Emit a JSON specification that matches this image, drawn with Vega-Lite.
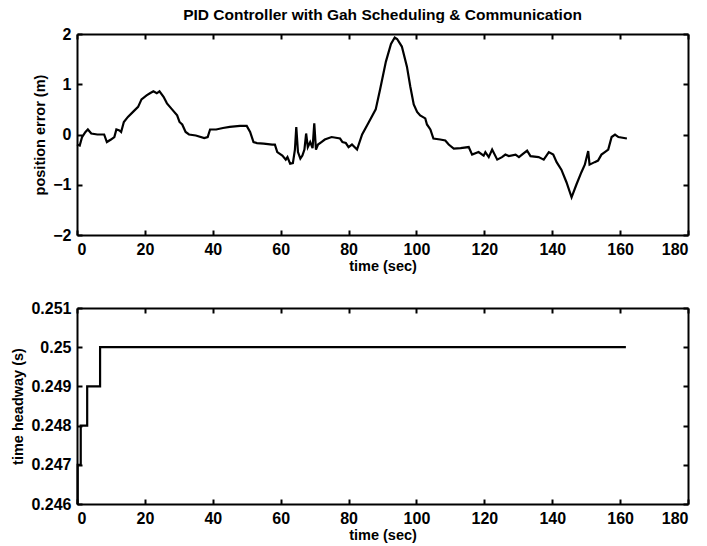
{
  "$schema": "https://vega.github.io/schema/vega-lite/v6.json",
  "padding": {"left": 10, "top": 7, "right": 5, "bottom": 2},
  "background": "white",
  "config": {
    "font": "Liberation Sans",
    "view": {"stroke": null},
    "axis": {
      "grid": false,
      "domainColor": "black",
      "domainWidth": 2,
      "tickColor": "black",
      "tickWidth": 2,
      "tickSize": -5,
      "labelFont": "Liberation Sans",
      "labelFontWeight": "bold",
      "labelFontSize": 16,
      "labelColor": "black",
      "titleFont": "Liberation Sans",
      "titleFontWeight": "bold",
      "titleFontSize": 14.5,
      "titleColor": "black"
    },
    "title": {"font": "Liberation Sans", "fontWeight": "bold", "fontSize": 15.5, "color": "black"}
  },
  "spacing": 27,
  "vconcat": [
    {
      "width": 611,
      "height": 201,
      "title": {"text": "PID Controller with Gah Scheduling & Communication", "anchor": "middle", "offset": 3},
      "data": {"values": [
        {"t":0,"e":-0.2},{"t":0.8,"e":-0.22},{"t":1.5,"e":-0.05},{"t":2.5,"e":0.05},{"t":3.2,"e":0.1},{"t":4.2,"e":0.02},{"t":6,"e":0.0},{"t":8,"e":0.0},{"t":8.8,"e":-0.15},{"t":10,"e":-0.1},{"t":11,"e":-0.05},{"t":11.6,"e":0.1},{"t":12.5,"e":0.08},{"t":13,"e":0.05},{"t":13.8,"e":0.25},{"t":15,"e":0.35},{"t":16.5,"e":0.45},{"t":18,"e":0.55},{"t":19,"e":0.7},{"t":20.5,"e":0.78},{"t":21.5,"e":0.82},{"t":22.5,"e":0.86},{"t":23.5,"e":0.82},{"t":24.3,"e":0.86},{"t":25.5,"e":0.75},{"t":26.5,"e":0.62},{"t":28,"e":0.5},{"t":29.5,"e":0.38},{"t":30.2,"e":0.25},{"t":31,"e":0.2},{"t":32,"e":0.05},{"t":33,"e":0.0},{"t":35,"e":-0.02},{"t":37.5,"e":-0.07},{"t":38.5,"e":-0.05},{"t":39.2,"e":0.1},{"t":41,"e":0.1},{"t":43,"e":0.13},{"t":45,"e":0.15},{"t":48,"e":0.17},{"t":50,"e":0.17},{"t":51,"e":0.05},{"t":52,"e":-0.15},{"t":53,"e":-0.17},{"t":55,"e":-0.18},{"t":57.5,"e":-0.2},{"t":58.3,"e":-0.2},{"t":59,"e":-0.35},{"t":60.5,"e":-0.42},{"t":61.5,"e":-0.5},{"t":62,"e":-0.45},{"t":62.8,"e":-0.58},{"t":63.6,"e":-0.57},{"t":64.2,"e":-0.3},{"t":64.6,"e":0.15},{"t":65.1,"e":-0.35},{"t":65.8,"e":-0.48},{"t":66.4,"e":-0.42},{"t":67,"e":-0.3},{"t":67.5,"e":0.02},{"t":68,"e":-0.25},{"t":68.7,"e":-0.15},{"t":69.4,"e":-0.27},{"t":69.9,"e":0.22},{"t":70.4,"e":-0.3},{"t":71,"e":-0.2},{"t":72,"e":-0.15},{"t":73,"e":-0.1},{"t":75,"e":-0.05},{"t":77.5,"e":-0.08},{"t":78.2,"e":-0.15},{"t":79.2,"e":-0.17},{"t":80,"e":-0.25},{"t":81,"e":-0.2},{"t":82.5,"e":-0.3},{"t":84,"e":0.0},{"t":86,"e":0.25},{"t":88,"e":0.5},{"t":89.3,"e":0.9},{"t":91,"e":1.45},{"t":92.5,"e":1.8},{"t":93.6,"e":1.93},{"t":94.3,"e":1.9},{"t":95.7,"e":1.75},{"t":97.2,"e":1.35},{"t":98.2,"e":0.95},{"t":99.2,"e":0.6},{"t":100.2,"e":0.45},{"t":101.1,"e":0.38},{"t":102.6,"e":0.32},{"t":103.1,"e":0.2},{"t":104.1,"e":0.1},{"t":105,"e":-0.08},{"t":107,"e":-0.1},{"t":108.5,"e":-0.12},{"t":109.5,"e":-0.2},{"t":111,"e":-0.28},{"t":113,"e":-0.27},{"t":115.4,"e":-0.25},{"t":116.4,"e":-0.4},{"t":118.3,"e":-0.35},{"t":119.8,"e":-0.42},{"t":120.3,"e":-0.35},{"t":121.3,"e":-0.45},{"t":122.3,"e":-0.3},{"t":123.8,"e":-0.5},{"t":125.2,"e":-0.45},{"t":126.2,"e":-0.4},{"t":127.2,"e":-0.43},{"t":129.2,"e":-0.4},{"t":130.2,"e":-0.45},{"t":131.1,"e":-0.4},{"t":132.6,"e":-0.32},{"t":133.6,"e":-0.43},{"t":136,"e":-0.45},{"t":137.5,"e":-0.5},{"t":139,"e":-0.35},{"t":140.3,"e":-0.4},{"t":141.3,"e":-0.55},{"t":142.7,"e":-0.7},{"t":144.2,"e":-0.95},{"t":145.7,"e":-1.25},{"t":147.1,"e":-1.0},{"t":148.6,"e":-0.75},{"t":149.6,"e":-0.6},{"t":150.6,"e":-0.33},{"t":151,"e":-0.6},{"t":152.5,"e":-0.55},{"t":153.5,"e":-0.52},{"t":154.5,"e":-0.4},{"t":155.5,"e":-0.35},{"t":156.5,"e":-0.3},{"t":157.5,"e":-0.05},{"t":158.5,"e":0.0},{"t":159.5,"e":-0.05},{"t":162,"e":-0.08}
      ]},
      "resolve": {"axis": {"x": "independent", "y": "independent"}},
      "layer": [
        {
          "mark": {"type": "line", "color": "black", "strokeWidth": 2.2},
          "encoding": {
            "x": {"field": "t", "type": "quantitative", "scale": {"domain": [0, 180], "nice": false},
                  "axis": {"orient": "bottom", "title": "time (sec)", "values": [0,20,40,60,80,100,120,140,160,180], "labelPadding": 11, "titlePadding": 2}},
            "y": {"field": "e", "type": "quantitative", "scale": {"domain": [-2, 2], "nice": false},
                  "axis": {"orient": "left", "title": "position error (m)", "values": [-2,-1,0,1,2], "labelPadding": 11, "titlePadding": 5}}
          }
        },
        {
          "mark": {"type": "line", "opacity": 0},
          "encoding": {
            "x": {"field": "t", "type": "quantitative", "axis": {"orient": "top", "title": null, "labels": false, "values": [0,20,40,60,80,100,120,140,160,180]}},
            "y": {"field": "e", "type": "quantitative", "axis": {"orient": "right", "title": null, "labels": false, "values": [-2,-1,0,1,2]}}
          }
        }
      ]
    },
    {
      "width": 611,
      "height": 196,
      "data": {"values": [
        {"t":0,"h":0.246},{"t":0.2,"h":0.247},{"t":1.1,"h":0.248},{"t":3,"h":0.249},{"t":6.8,"h":0.25},{"t":161.7,"h":0.25}
      ]},
      "resolve": {"axis": {"x": "independent", "y": "independent"}},
      "layer": [
        {
          "mark": {"type": "line", "color": "black", "strokeWidth": 2.2, "interpolate": "step-after"},
          "encoding": {
            "x": {"field": "t", "type": "quantitative", "scale": {"domain": [0, 180], "nice": false},
                  "axis": {"orient": "bottom", "title": "time (sec)", "values": [0,20,40,60,80,100,120,140,160,180], "labelPadding": 11, "titlePadding": 2}},
            "y": {"field": "h", "type": "quantitative", "scale": {"domain": [0.246, 0.251], "nice": false, "zero": false},
                  "axis": {"orient": "left", "title": "time headway (s)", "values": [0.246,0.247,0.248,0.249,0.25,0.251], "labelExpr": "format(datum.value, '.3~f')", "labelPadding": 11, "titlePadding": 5}}
          }
        },
        {
          "mark": {"type": "line", "opacity": 0},
          "encoding": {
            "x": {"field": "t", "type": "quantitative", "axis": {"orient": "top", "title": null, "labels": false, "values": [0,20,40,60,80,100,120,140,160,180]}},
            "y": {"field": "h", "type": "quantitative", "axis": {"orient": "right", "title": null, "labels": false, "values": [0.246,0.247,0.248,0.249,0.25,0.251]}}
          }
        }
      ]
    }
  ]
}
